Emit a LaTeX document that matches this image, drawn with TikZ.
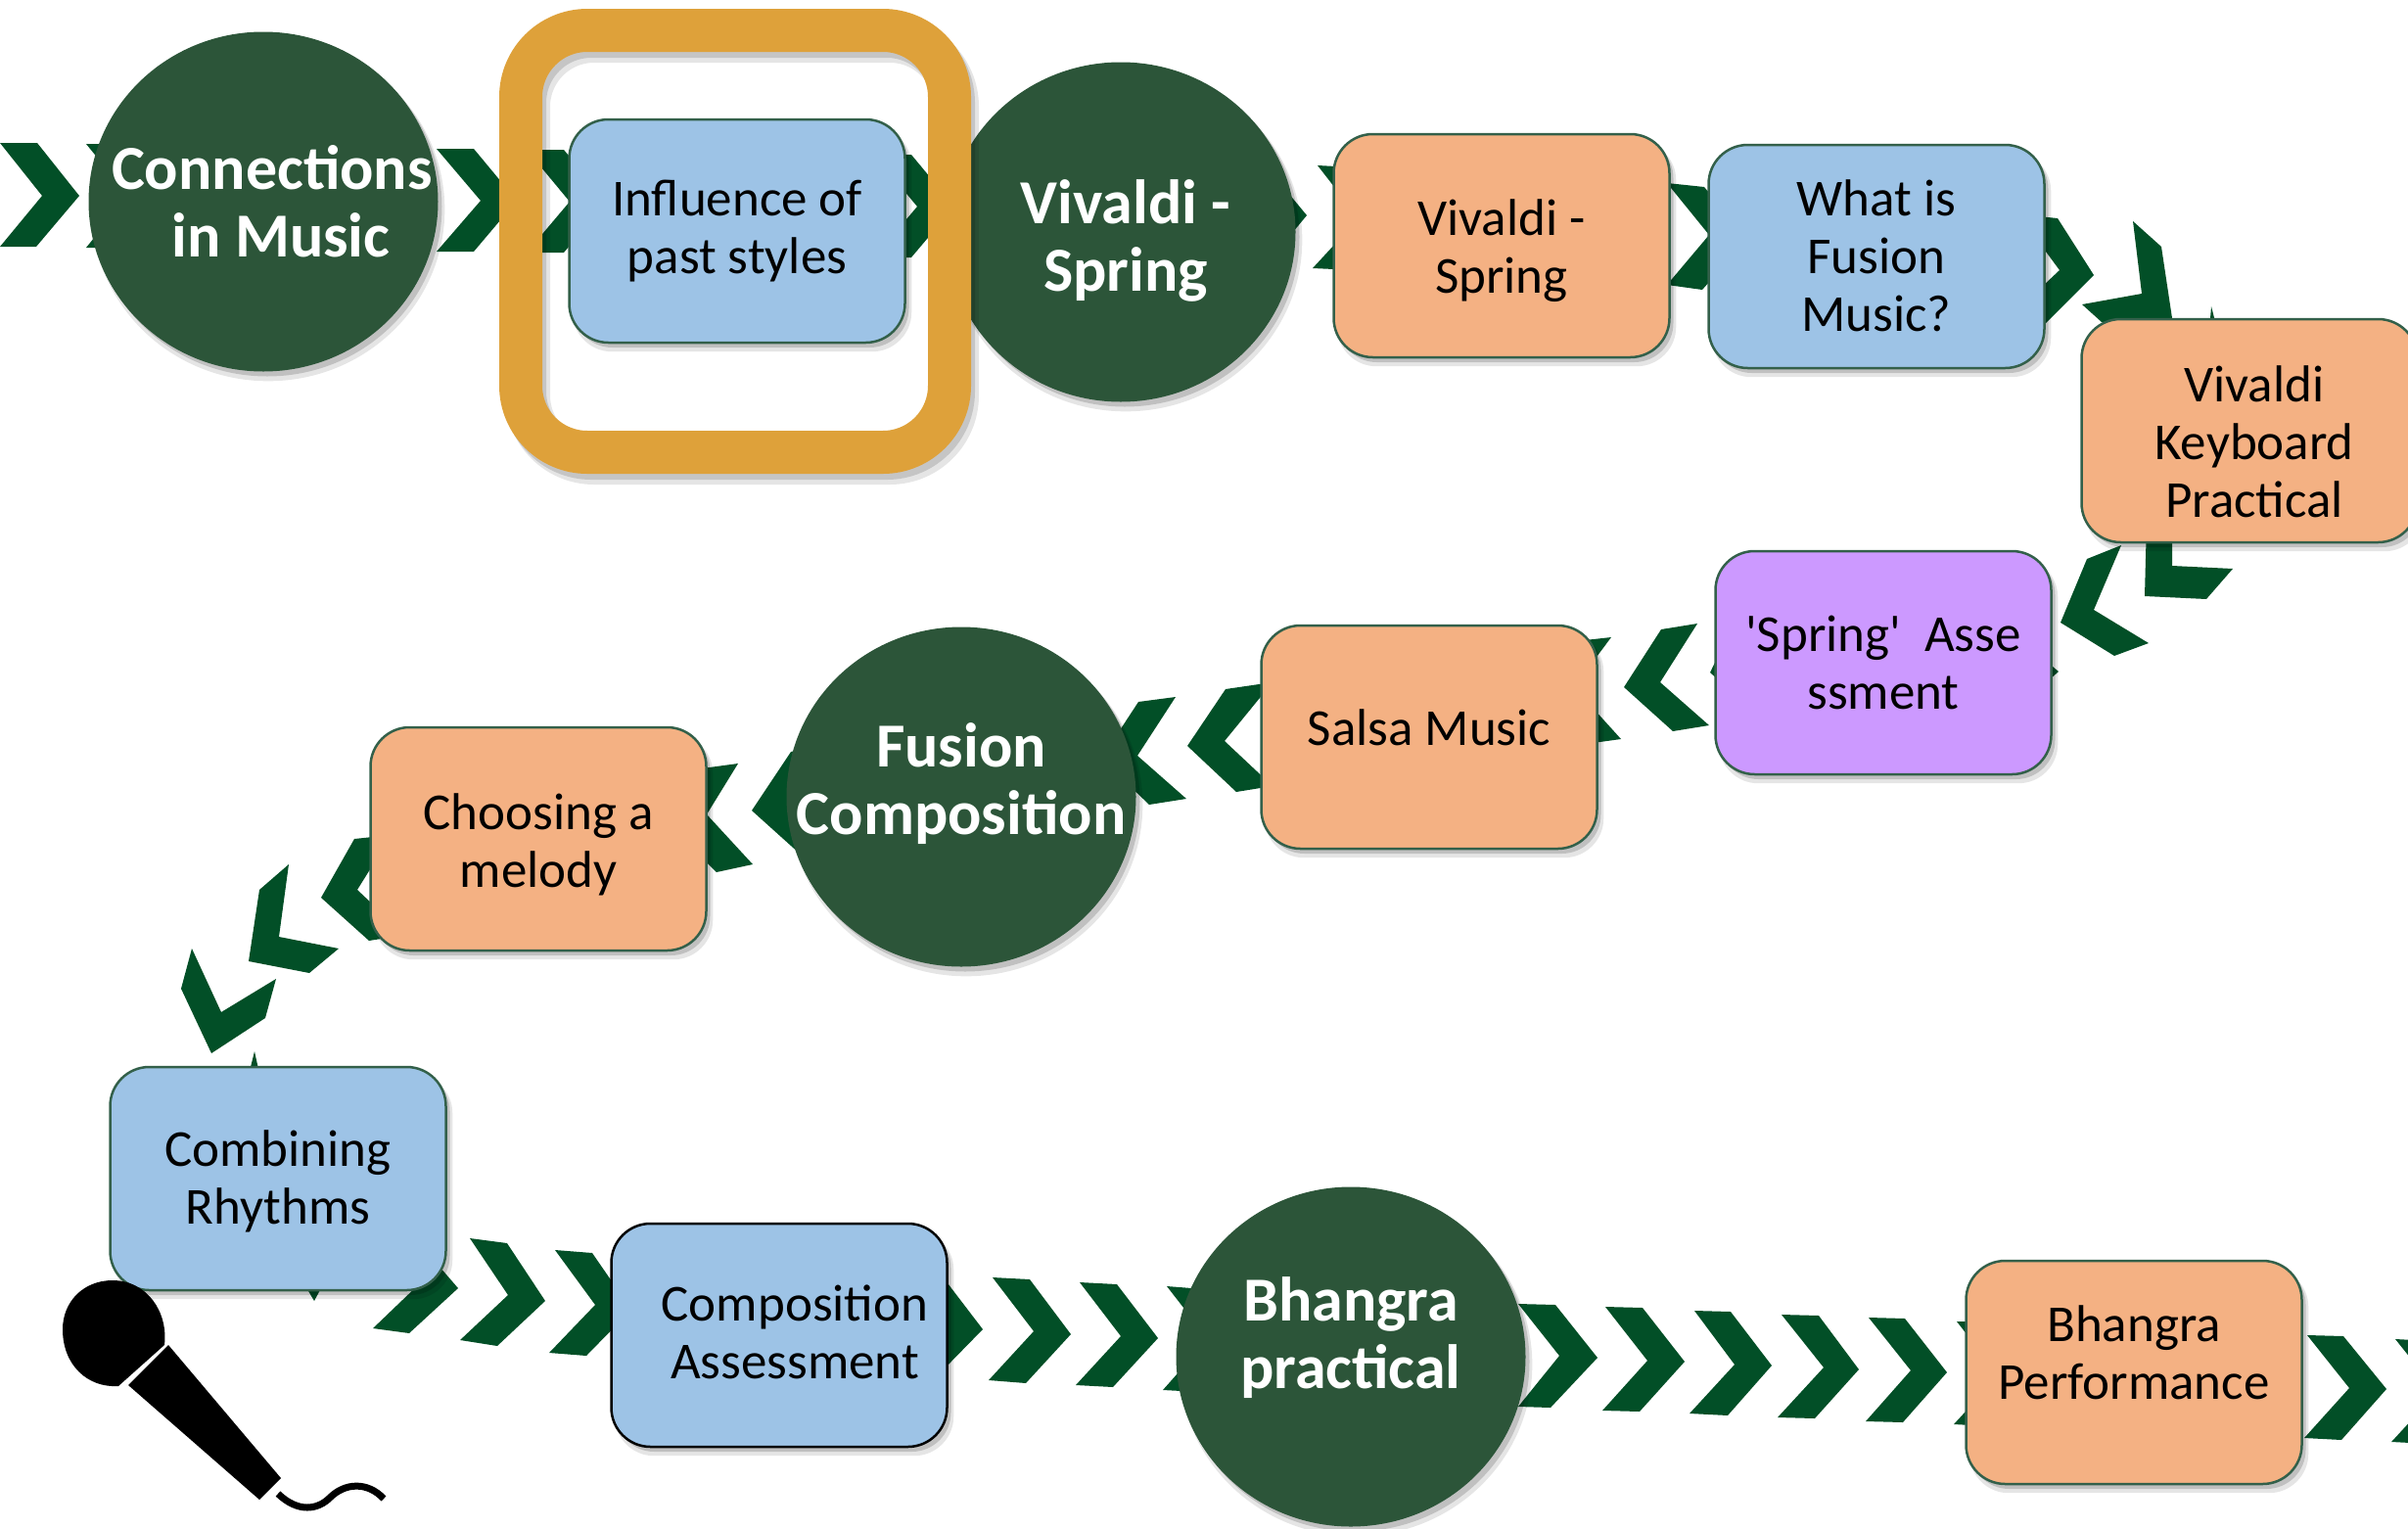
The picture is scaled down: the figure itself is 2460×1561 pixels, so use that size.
\documentclass[tikz,border=0pt]{standalone}
\usepackage{fontspec}
\setmainfont{Carlito}
\usetikzlibrary{shadows,shapes.geometric}
\definecolor{chevgreen}{HTML}{024F27}
\definecolor{discgreen}{HTML}{2C5539}
\definecolor{edgegreen}{HTML}{33604A}
\definecolor{boxblue}{HTML}{9DC3E6}
\definecolor{boxorange}{HTML}{F4B183}
\definecolor{boxpurple}{HTML}{CC99FF}
\definecolor{framegold}{HTML}{DEA13A}
\newcommand\chev[6]{\fill[chevgreen] #1 -- #2 -- #3 -- #4 -- #5 -- #6 -- cycle;}
\tikzset{
softshadow/.style={
  general shadow={shadow xshift=5pt,shadow yshift=-8pt,fill=black,opacity=.10,shadow scale=1.01},
  general shadow={shadow xshift=4pt,shadow yshift=-5pt,fill=black,opacity=.16}},
boxnode/.style={rectangle,rounded corners=40pt,minimum width=343pt,minimum height=228pt,
  draw=edgegreen,line width=2.5pt,softshadow},
bluebox/.style={boxnode,fill=boxblue},
orangebox/.style={boxnode,fill=boxorange},
purplebox/.style={boxnode,fill=boxpurple},
discnode/.style={ellipse,minimum width=357pt,minimum height=347pt,inner sep=0pt,fill=discgreen,softshadow},
boxtext/.style={align=center,font=\fontsize{53}{59}\selectfont,text=black},
disctext/.style={align=center,font=\fontsize{64}{69}\selectfont\bfseries,text=white}
}
\begin{document}
\begin{tikzpicture}[x=1pt,y=-1pt]
\useasboundingbox (0,0) rectangle (2460,1561);
% top row
\chev{(0,146)}{(38,146)}{(81,200)}{(37,252)}{(0,252)}{(43,200)}
\chev{(88,147)}{(126,147)}{(170,200)}{(126,253)}{(88,253)}{(131,200)}
\chev{(446,152)}{(484,152)}{(528,205)}{(484,257)}{(446,257)}{(491,205)}
\chev{(538,153)}{(576,153)}{(620,206)}{(576,258)}{(538,258)}{(582,206)}
\chev{(893,158)}{(931,158)}{(975,211)}{(931,263)}{(893,263)}{(937,211)}
\chev{(1254,168)}{(1292,168)}{(1335,220)}{(1292,272)}{(1254,272)}{(1296,220)}
\chev{(1346,169)}{(1384,171)}{(1428,223)}{(1384,276)}{(1341,274)}{(1388,223)}
\chev{(1703,187)}{(1741,191)}{(1785,244)}{(1739,296)}{(1703,291)}{(1746,240)}
\chev{(2062,219)}{(2102,223)}{(2139,281)}{(2085,335)}{(2052,325)}{(2104,276)}
\chev{(2179,226)}{(2208,252)}{(2222,345)}{(2147,329)}{(2127,311)}{(2188,300)}
\chev{(2259,313)}{(2266,340)}{(2270,400)}{(2210,390)}{(2200,375)}{(2256,350)}
% turn and middle row
\chev{(2219,530)}{(2193,530)}{(2191,609)}{(2254,612)}{(2281,581)}{(2219,578)}
\chev{(2167,557)}{(2132,571)}{(2105,636)}{(2160,670)}{(2195,657)}{(2139,623)}
\chev{(2060,650)}{(2103,686)}{(2060,725)}{(2030,720)}{(2070,688)}{(2030,655)}
\chev{(1810,620)}{(1775,630)}{(1747,687)}{(1800,735)}{(1835,725)}{(1790,680)}
\chev{(1734,637)}{(1697,643)}{(1659,702)}{(1709,747)}{(1746,741)}{(1696,697)}
\chev{(1646,651)}{(1610,655)}{(1570,712)}{(1620,760)}{(1656,755)}{(1608,702)}
\chev{(1300,697)}{(1252,704)}{(1213,762)}{(1263,809)}{(1300,803)}{(1251,757)}
\chev{(1201,712)}{(1163,717)}{(1125,775)}{(1174,822)}{(1212,816)}{(1162,772)}
\chev{(845,760)}{(808,768)}{(768,828)}{(818,873)}{(855,867)}{(808,825)}
\chev{(754,780)}{(717,785)}{(680,840)}{(732,891)}{(769,883)}{(722,832)}
\chev{(400,853)}{(362,857)}{(328,917)}{(377,961)}{(414,955)}{(365,909)}
\chev{(295,883)}{(265,909)}{(254,982)}{(316,994)}{(346,969)}{(285,957)}
\chev{(196,969)}{(185,1010)}{(216,1076)}{(271,1040)}{(282,1000)}{(226,1034)}
% bottom row
\chev{(260,1074)}{(268,1110)}{(262,1150)}{(256,1150)}{(252,1110)}{(256,1090)}
\chev{(298,1290)}{(321,1329)}{(342,1290)}{(335,1280)}{(321,1300)}{(305,1280)}
\chev{(383,1254)}{(418,1258)}{(468,1316)}{(418,1362)}{(381,1357)}{(430,1310)}
\chev{(480,1265)}{(518,1270)}{(557,1329)}{(508,1375)}{(470,1369)}{(519,1323)}
\chev{(567,1277)}{(605,1280)}{(645,1338)}{(599,1385)}{(561,1382)}{(608,1333)}
\chev{(925,1300)}{(962,1303)}{(1004,1358)}{(960,1403)}{(920,1400)}{(968,1352)}
\chev{(1014,1305)}{(1052,1307)}{(1094,1363)}{(1048,1413)}{(1010,1410)}{(1056,1360)}
\chev{(1103,1310)}{(1141,1312)}{(1183,1367)}{(1137,1417)}{(1099,1415)}{(1145,1365)}
\chev{(1192,1314)}{(1230,1317)}{(1272,1372)}{(1226,1422)}{(1188,1420)}{(1234,1368)}
\chev{(1551,1332)}{(1589,1333)}{(1632,1387)}{(1584,1438)}{(1551,1437)}{(1593,1385)}
\chev{(1640,1335)}{(1678,1336)}{(1721,1391)}{(1675,1442)}{(1637,1441)}{(1683,1390)}
\chev{(1731,1339)}{(1768,1340)}{(1810,1395)}{(1765,1446)}{(1726,1444)}{(1772,1394)}
\chev{(1820,1343)}{(1858,1344)}{(1899,1399)}{(1854,1449)}{(1816,1448)}{(1863,1397)}
\chev{(1909,1346)}{(1946,1347)}{(1989,1402)}{(1944,1453)}{(1906,1452)}{(1952,1400)}
\chev{(1999,1350)}{(2036,1351)}{(2078,1406)}{(2033,1457)}{(1996,1455)}{(2042,1405)}
\chev{(2357,1364)}{(2394,1365)}{(2438,1419)}{(2392,1471)}{(2354,1469)}{(2400,1418)}
\chev{(2447,1368)}{(2485,1370)}{(2528,1424)}{(2482,1475)}{(2443,1473)}{(2490,1422)}
%
\node[discnode,label={[disctext,xshift=9pt]center:Connections\\\hspace*{18pt}in Music}] (connections) at (269,206) {};
\node[discnode,label={[disctext,xshift=5pt,yshift=-9pt]center:Vivaldi -\\Spring}] (vivaldidisc) at (1145,237) {};
\node[discnode,label={[disctext,yshift=13pt]center:Fusion\\Composition}] (fusion) at (982,814) {};
\node[discnode,label={[disctext,yshift=19pt]center:Bhangra\\practical}] (bhangra) at (1380,1386) {};
%
\draw[black,opacity=.10,line width=46pt,rounded corners=68pt,shift={(7,10)}] (532,31) rectangle (970,462);
\draw[black,opacity=.14,line width=44pt,rounded corners=68pt,shift={(4,6)}] (532,31) rectangle (970,462);
\draw[framegold,line width=44pt,rounded corners=68pt] (532,31) rectangle (970,462);
%
\node[bluebox,label={[boxtext]center:Influence of\\past styles}] (influence) at (753,236) {};
\node[orangebox,label={[boxtext,yshift=-5pt]center:Vivaldi -\\Spring}] (vivaldibox) at (1534,251) {};
\node[bluebox,label={[boxtext,yshift=1pt]center:What is\\Fusion\\Music?}] (fusionmusic) at (1917,262) {};
\node[orangebox,label={[boxtext,xshift=5pt,yshift=-11pt]center:Vivaldi\\Keyboard\\Practical}] (keyboard) at (2298,440) {};
\node[purplebox,label={[boxtext]center:\textquotesingle Spring\textquotesingle\ \ Asse\\ssment}] (springtest) at (1924,677) {};
\node[orangebox,label={[boxtext,yshift=10pt]center:Salsa Music}] (salsa) at (1460,753) {};
\node[orangebox,label={[boxtext,yshift=-6pt]center:Choosing a\\melody}] (melody) at (550,857) {};
\node[bluebox,label={[boxtext,yshift=-3pt]center:Combining\\Rhythms}] (rhythms) at (284,1204) {};
\node[bluebox,draw=black,label={[boxtext,xshift=16pt,yshift=3pt]center:Composition\\Assessment}] (composition) at (796,1364) {};
\node[orangebox,label={[boxtext,yshift=20pt]center:Bhangra\\Performance}] (performance) at (2180,1402) {};
%
\fill[black] (168,1374) -- (121,1416) .. controls (90,1418) and (64,1395) .. (64,1358)
  .. controls (64,1330) and (85,1308) .. (115,1308) .. controls (150,1308) and (172,1340) .. (168,1374) -- cycle;
\fill[black] (172,1374) -- (131,1415) -- (265,1532) -- (287,1510) -- cycle;
\draw[black,line width=7pt] (284,1526) .. controls (305,1546) and (325,1542) .. (337,1530)
  .. controls (352,1515) and (375,1513) .. (392,1531);
\end{tikzpicture}
\end{document}
